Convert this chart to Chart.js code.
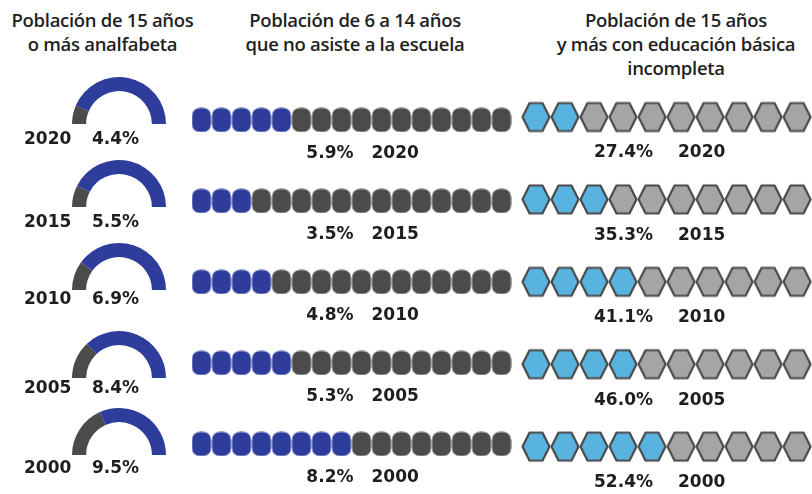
<!DOCTYPE html>
<html><head><meta charset="utf-8">
<script src="https://cdn.jsdelivr.net/npm/chart.js@4.4.1/dist/chart.umd.min.js"></script>
<style>
html,body{margin:0;padding:0;background:#fff;width:812px;height:494px;overflow:hidden}
body{position:relative}
.h{position:absolute;font-family:"Open Sans",sans-serif;font-weight:600;font-size:18.5px;color:#1f1f1f;text-align:center;line-height:24px;white-space:nowrap;letter-spacing:-0.3px}
canvas{position:absolute;display:block}
</style></head><body>
<div class="h" style="left:0;width:205px;top:8px">Población de 15 años<br>o más analfabeta</div>
<div class="h" style="left:215px;width:280px;top:8px">Población de 6 a 14 años<br>que no asiste a la escuela</div>
<div class="h" style="left:535px;width:282px;top:8px">Población de 15 años<br>y más con educación básica<br>incompleta</div>
<canvas id="g0"></canvas><canvas id="g1"></canvas><canvas id="g2"></canvas><canvas id="g3"></canvas><canvas id="g4"></canvas>
<canvas id="pills" width="340" height="404" style="left:180px;top:90px"></canvas>
<canvas id="hexes" width="297" height="404" style="left:515px;top:90px"></canvas>
<script>
// ---- data ----
const years = ['2020','2015','2010','2005','2000'];
const analfabetaPct = ['4.4%','5.5%','6.9%','8.4%','9.5%'];
const gaugeGrayDeg = [23, 27, 36, 47, 66];
const gaugeBlueDeg = [157, 153, 144, 133, 114];
const noAsistePct = ['5.9%','3.5%','4.8%','5.3%','8.2%'];
const pillBlue = [5, 3, 4, 5, 8];
const pillGray = [11, 13, 12, 11, 8];
const basicaPct = ['27.4%','35.3%','41.1%','46.0%','52.4%'];
const hexBlue = [2, 3, 4, 4, 5];
const hexGray = [8, 7, 6, 6, 5];

// ---- styling / layout ----
const BLUE = '#2e3c9c', DARK = '#4b4b4b', HEXBLUE = '#59b3df', HEXGRAY = '#a5a5a5', HEXLINE = '#4a4a4a', TXT = '#1d1d22';
const LABELFONT = 'bold 17px "DejaVu Sans"';
const gaugeCY = [124, 207, 290, 378, 455];
const gaugeLabelDy = [16, 16, 10, 11, 14];

const common = {
  responsive:false, animation:false, events:[],
  plugins:{legend:{display:false}, tooltip:{enabled:false}, title:{display:false}},
};

// ---- gauges ----
years.forEach((yr, i) => {
  const cv = document.getElementById('g'+i);
  cv.width = 190; cv.height = 80;
  cv.style.left = '0px'; cv.style.top = (gaugeCY[i]-50)+'px';
  new Chart(cv, {
    type:'doughnut',
    data:{labels:['gris','azul'], datasets:[{data:[gaugeGrayDeg[i], gaugeBlueDeg[i]], backgroundColor:[DARK, BLUE], borderWidth:0}]},
    options:Object.assign({}, common, {
      rotation:-90, circumference:180, cutout:'70%',
      layout:{padding:{left:72, right:24, top:3, bottom:30}}
    }),
    plugins:[{id:'glabel', afterDraw(chart){
      const a = chart.getDatasetMeta(0).data[0];
      const ctx = chart.ctx; ctx.save();
      ctx.font = LABELFONT; ctx.fillStyle = TXT; ctx.textBaseline = 'middle'; ctx.textAlign = 'left';
      ctx.fillText(yr, a.x-95, a.y+gaugeLabelDy[i]);
      ctx.fillText(analfabetaPct[i], a.x-27, a.y+gaugeLabelDy[i]);
      ctx.restore();
    }}]
  });
});

// ---- point images ----
function pillImg(color){
  const c = document.createElement('canvas'); c.width = 20; c.height = 25;
  const x = c.getContext('2d'); const w=19, h=24, r=8.5, ox=0.5, oy=0.5;
  x.beginPath();
  x.moveTo(ox+r, oy); x.lineTo(ox+w-r, oy); x.quadraticCurveTo(ox+w, oy, ox+w, oy+r);
  x.lineTo(ox+w, oy+h-r); x.quadraticCurveTo(ox+w, oy+h, ox+w-r, oy+h);
  x.lineTo(ox+r, oy+h); x.quadraticCurveTo(ox, oy+h, ox, oy+h-r);
  x.lineTo(ox, oy+r); x.quadraticCurveTo(ox, oy, ox+r, oy); x.closePath();
  x.fillStyle = color; x.fill(); return c;
}
function hexImg(fill){
  const c = document.createElement('canvas'); c.width = 30; c.height = 33;
  const x = c.getContext('2d');
  x.beginPath(); x.moveTo(1.5,16.5); x.lineTo(8.5,2.5); x.lineTo(21.5,2.5); x.lineTo(28.5,16.5); x.lineTo(21.5,30.5); x.lineTo(8.5,30.5); x.closePath();
  x.fillStyle = fill; x.fill(); x.lineWidth = 2.2; x.lineJoin='round'; x.strokeStyle = HEXLINE; x.stroke(); return c;
}

function rowPoints(blue, gray){
  const b = [], g = [];
  blue.forEach((n, r) => { for (let k=0; k<n; k++) b.push({x:k, y:r}); });
  gray.forEach((n, r) => { for (let k=0; k<n; k++) g.push({x:blue[r]+k, y:r}); });
  return [b, g];
}

function labelPlugin(pcts, centerX, valDx, yearDx, dy){
  return {id:'rowlabels', afterDatasetsDraw(chart){
    const {ctx, scales:{x, y}} = chart; ctx.save();
    ctx.font = LABELFONT; ctx.fillStyle = TXT; ctx.textBaseline = 'middle';
    years.forEach((yr, i) => {
      const cx = x.getPixelForValue(centerX), py = y.getPixelForValue(i) + dy;
      ctx.textAlign = 'right'; ctx.fillText(pcts[i], cx+valDx, py);
      ctx.textAlign = 'left'; ctx.fillText(yr, cx+yearDx, py);
    });
    ctx.restore();
  }};
}

// ---- pills ----
const [pb, pg] = rowPoints(pillBlue, pillGray);
new Chart(document.getElementById('pills'), {
  type:'scatter',
  data:{datasets:[
    {data:pb, pointStyle:pillImg(BLUE), pointRadius:10, clip:false},
    {data:pg, pointStyle:pillImg(DARK), pointRadius:10, clip:false}
  ]},
  options:Object.assign({}, common, {
    layout:{padding:0, autoPadding:false},
    scales:{
      x:{type:'linear', display:false, min:-1.075, max:15.925},
      y:{type:'linear', display:false, reverse:true, min:-0.370, max:4.618}
    }
  }),
  plugins:[labelPlugin(noAsistePct, 7.5, 2, 20, 34)]
});

// ---- hexagons ----
const [hb, hg] = rowPoints(hexBlue, hexGray);
new Chart(document.getElementById('hexes'), {
  type:'scatter',
  data:{datasets:[
    {data:hb, pointStyle:hexImg(HEXBLUE), pointRadius:14, clip:false},
    {data:hg, pointStyle:hexImg(HEXGRAY), pointRadius:14, clip:false}
  ]},
  options:Object.assign({}, common, {
    layout:{padding:0, autoPadding:false},
    scales:{
      x:{type:'linear', display:false, min:-0.724, max:9.517},
      y:{type:'linear', display:false, reverse:true, min:-0.3277, max:4.575}
    }
  }),
  plugins:[labelPlugin(basicaPct, 4, 1, 26, 36)]
});
</script>
</body></html>
